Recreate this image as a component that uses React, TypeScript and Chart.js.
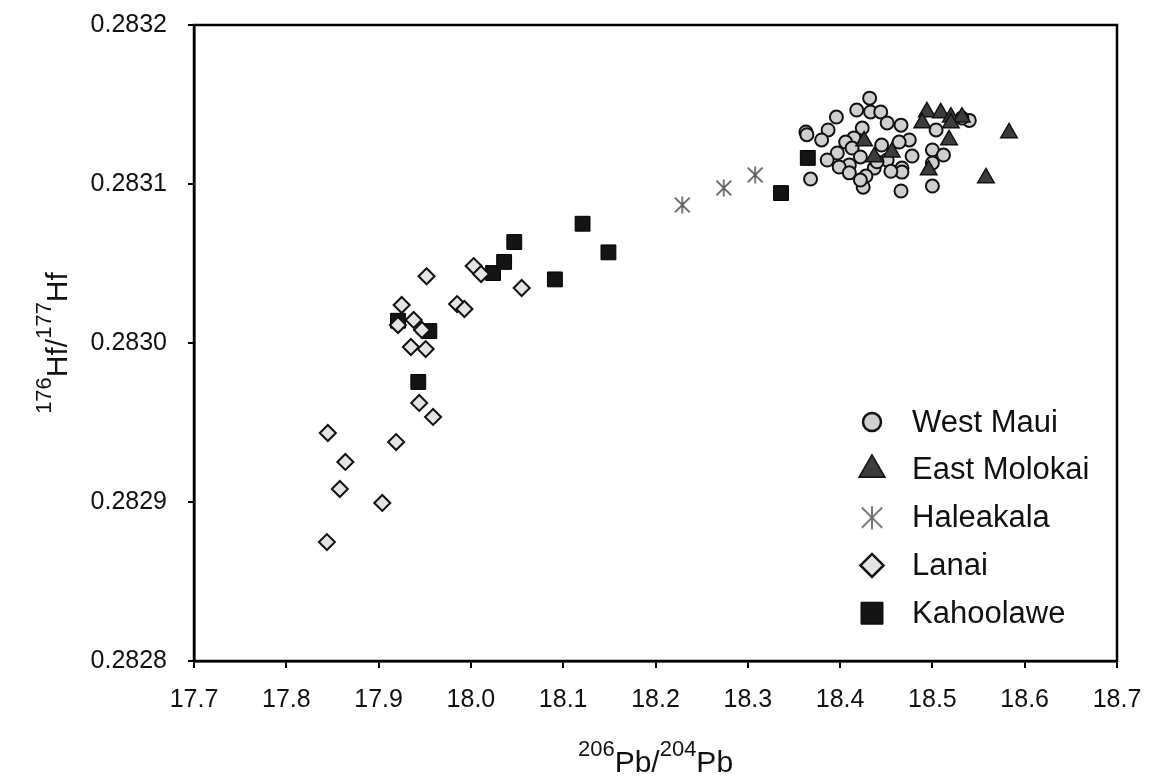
import React, { useEffect, useRef } from 'react';
import { Chart, registerables } from 'chart.js';
import { drawPoint } from 'chart.js/helpers';

Chart.register(...registerables);

// ---------- data ----------
const xTicks = [17.7, 17.8, 17.9, 18.0, 18.1, 18.2, 18.3, 18.4, 18.5, 18.6, 18.7];
const yTicks = [0.2828, 0.2829, 0.283, 0.2831, 0.2832];

const seriesNames = ['West Maui', 'East Molokai', 'Haleakala', 'Lanai', 'Kahoolawe'];

const westMauiX = [18.432, 18.418, 18.433, 18.444, 18.396, 18.451, 18.466, 18.363, 18.387, 18.424, 18.504, 18.540, 18.532, 18.380, 18.415, 18.406, 18.475, 18.464, 18.445, 18.413, 18.397, 18.500, 18.512, 18.478, 18.422, 18.386, 18.451, 18.410, 18.399, 18.437, 18.467, 18.500, 18.410, 18.428, 18.467, 18.368, 18.500, 18.425, 18.466, 18.422, 18.364, 18.455, 18.440];
const westMauiY = [0.283154, 0.2831465, 0.2831453, 0.2831453, 0.2831421, 0.2831384, 0.283137, 0.2831327, 0.283134, 0.2831352, 0.283134, 0.28314, 0.2831415, 0.2831277, 0.283129, 0.2831264, 0.2831277, 0.2831264, 0.2831245, 0.2831226, 0.2831195, 0.2831214, 0.2831182, 0.2831176, 0.283117, 0.2831151, 0.2831151, 0.283112, 0.2831107, 0.28311, 0.28311, 0.2831132, 0.283107, 0.283105, 0.2831075, 0.2831031, 0.2830987, 0.283098, 0.2830956, 0.2831025, 0.283131, 0.283108, 0.283114];

const eastMolokaiX = [18.494, 18.509, 18.520, 18.532, 18.489, 18.520, 18.583, 18.518, 18.426, 18.456, 18.437, 18.496, 18.558];
const eastMolokaiY = [0.2831453, 0.2831447, 0.283142, 0.283142, 0.2831384, 0.2831384, 0.2831321, 0.2831277, 0.283127, 0.28312, 0.283117, 0.2831088, 0.2831038];

const haleakalaX = [18.229, 18.274, 18.308];
const haleakalaY = [0.2830868, 0.2830975, 0.2831057];

const lanaiX = [17.952, 18.003, 18.011, 18.055, 17.925, 17.985, 17.993, 17.921, 17.938, 17.947, 17.935, 17.951, 17.944, 17.959, 17.845, 17.919, 17.864, 17.858, 17.904, 17.844];
const lanaiY = [0.283042, 0.2830484, 0.2830434, 0.2830346, 0.2830239, 0.2830245, 0.2830214, 0.2830113, 0.2830145, 0.2830082, 0.2829975, 0.2829962, 0.2829623, 0.2829535, 0.2829434, 0.2829377, 0.2829252, 0.2829082, 0.2828994, 0.2828748];

const kahoolaweX = [17.921, 17.955, 17.943, 18.024, 18.036, 18.047, 18.091, 18.121, 18.149, 18.336, 18.365];
const kahoolaweY = [0.283014, 0.2830075, 0.2829755, 0.283044, 0.283051, 0.2830635, 0.28304, 0.283075, 0.283057, 0.2830943, 0.2831164];

// ---------- helpers ----------
const FONT = "'Liberation Sans', Arial, Helvetica, sans-serif";

function makeAsterisk(size: number, color: string, lw: number): HTMLCanvasElement {
  const c = document.createElement('canvas');
  c.width = size;
  c.height = size;
  const g = c.getContext('2d')!;
  g.strokeStyle = color;
  g.lineWidth = lw;
  const m = lw;
  g.beginPath();
  g.moveTo(m, m);
  g.lineTo(size - m, size - m);
  g.moveTo(size - m, m);
  g.lineTo(m, size - m);
  g.moveTo(size / 2, 0.5);
  g.lineTo(size / 2, size - 0.5);
  g.stroke();
  return c;
}

const pts = (xs: number[], ys: number[]) => xs.map((x, i) => ({ x, y: ys[i] }));

function drawSupText(ctx: CanvasRenderingContext2D, parts: { t: string; sup: boolean }[], cx: number, baseY: number, mainSize: number, supSize: number, raise: number) {
  const mainFont = `${mainSize}px ${FONT}`;
  const supFont = `${supSize}px ${FONT}`;
  let total = 0;
  for (const p of parts) {
    ctx.font = p.sup ? supFont : mainFont;
    total += ctx.measureText(p.t).width;
  }
  let x = cx - total / 2;
  ctx.textAlign = 'left';
  ctx.textBaseline = 'alphabetic';
  for (const p of parts) {
    ctx.font = p.sup ? supFont : mainFont;
    ctx.fillText(p.t, x, p.sup ? baseY - raise : baseY);
    x += ctx.measureText(p.t).width;
  }
}

export default function App() {
  const ref = useRef<HTMLCanvasElement>(null);

  useEffect(() => {
    if (!ref.current) return;
    const starData = makeAsterisk(18, '#5a5a5a', 1.6);
    const starLegend = makeAsterisk(24, '#6a6a6a', 1.8);

    const legendStyles = [
      { style: 'circle', radius: 9, bg: '#cfcfcf', border: '#111', bw: 2.5 },
      { style: 'triangle', radius: 15, bg: '#3c3c3c', border: '#111', bw: 1.5 },
      { style: starLegend, radius: 12, bg: '#666', border: '#666', bw: 0 },
      { style: 'rectRot', radius: 11.5, bg: '#e4e4e4', border: '#111', bw: 2.5 },
      { style: 'rect', radius: 15.5, bg: '#141414', border: '#000', bw: 1 },
    ];

    const overlay = {
      id: 'overlay',
      afterDraw(chart: any) {
        const { ctx, chartArea } = chart;
        ctx.save();
        // frame
        ctx.strokeStyle = '#000';
        ctx.lineWidth = 2.5;
        ctx.strokeRect(chartArea.left, chartArea.top, chartArea.right - chartArea.left, chartArea.bottom - chartArea.top);

        // x title
        ctx.fillStyle = '#111';
        const cx = (chartArea.left + chartArea.right) / 2;
        drawSupText(ctx, [
          { t: '206', sup: true }, { t: 'Pb/', sup: false }, { t: '204', sup: true }, { t: 'Pb', sup: false },
        ], cx, 772, 30, 22, 16);

        // y title
        ctx.save();
        const cy = (chartArea.top + chartArea.bottom) / 2;
        ctx.translate(67, cy);
        ctx.rotate(-Math.PI / 2);
        drawSupText(ctx, [
          { t: '176', sup: true }, { t: 'Hf/', sup: false }, { t: '177', sup: true }, { t: 'Hf', sup: false },
        ], 0, 0, 30, 22, 16);
        ctx.restore();

        // legend
        seriesNames.forEach((name, i) => {
          const s = legendStyles[i];
          const y = 422 + i * 47.8;
          ctx.fillStyle = s.bg;
          ctx.strokeStyle = s.border;
          ctx.lineWidth = s.bw;
          drawPoint(ctx, { pointStyle: s.style as any, rotation: 0, radius: s.radius, borderWidth: s.bw }, 872, y);
          ctx.fillStyle = '#111';
          ctx.font = `31px ${FONT}`;
          ctx.textAlign = 'left';
          ctx.textBaseline = 'middle';
          ctx.fillText(name, 912, y + 1);
        });
        ctx.restore();
      },
    };

    const tickFont = { family: FONT, size: 25 };

    const chart = new Chart(ref.current, {
      type: 'scatter',
      data: {
        datasets: [
          {
            label: seriesNames[0], data: pts(westMauiX, westMauiY), order: 2,
            pointStyle: 'circle', pointRadius: 6.5, pointHoverRadius: 6.5,
            backgroundColor: '#cfcfcf', borderColor: '#111', borderWidth: 2,
          },
          {
            label: seriesNames[1], data: pts(eastMolokaiX, eastMolokaiY), order: 1,
            pointStyle: 'triangle', pointRadius: 9.5, pointHoverRadius: 9.5,
            backgroundColor: '#3c3c3c', borderColor: '#111', borderWidth: 1.5,
          },
          {
            label: seriesNames[2], data: pts(haleakalaX, haleakalaY), order: 3,
            pointStyle: starData, pointRadius: 9, pointHoverRadius: 9,
            backgroundColor: '#666', borderColor: '#666', borderWidth: 0,
          },
          {
            label: seriesNames[3], data: pts(lanaiX, lanaiY), order: 4,
            pointStyle: 'rectRot', pointRadius: 8, pointHoverRadius: 8,
            backgroundColor: '#e4e4e4', borderColor: '#111', borderWidth: 2,
          },
          {
            label: seriesNames[4], data: pts(kahoolaweX, kahoolaweY), order: 5,
            pointStyle: 'rect', pointRadius: 10.5, pointHoverRadius: 10.5,
            backgroundColor: '#141414', borderColor: '#000', borderWidth: 1,
          },
        ] as any,
      },
      options: {
        animation: false,
        responsive: false,
        events: [],
        layout: { padding: { top: 25, right: 56, left: 0, bottom: 0 } },
        plugins: { legend: { display: false }, tooltip: { enabled: false } },
        scales: {
          x: {
            type: 'linear',
            min: 17.7,
            max: 18.7,
            afterBuildTicks: (s: any) => { s.ticks = xTicks.map((v) => ({ value: v })); },
            afterFit: (s: any) => { s.height = 121; s.paddingLeft = 0; s.paddingRight = 0; },
            ticks: { font: tickFont, color: '#111', padding: 17, maxRotation: 0, callback: (v: any) => Number(v).toFixed(1) },
            grid: { drawOnChartArea: false, drawTicks: true, tickLength: 7, color: '#000', lineWidth: 2 },
            border: { display: true, color: '#000', width: 2.5 },
            title: { display: false },
          },
          y: {
            type: 'linear',
            min: 0.2828,
            max: 0.2832,
            afterBuildTicks: (s: any) => { s.ticks = yTicks.map((v) => ({ value: v })); },
            afterFit: (s: any) => { s.width = 194; s.paddingTop = 0; s.paddingBottom = 0; },
            ticks: { font: tickFont, color: '#111', padding: 21, callback: (v: any) => Number(v).toFixed(4) },
            grid: { drawOnChartArea: false, drawTicks: true, tickLength: 6, color: '#000', lineWidth: 2 },
            border: { display: true, color: '#000', width: 2.5 },
            title: { display: false },
          },
        },
      } as any,
      plugins: [overlay],
    });
    return () => chart.destroy();
  }, []);

  return (
    <div style={{ position: 'absolute', left: 0, top: 0, width: 1173, height: 782, background: '#fff' }}>
      <canvas ref={ref} width={1173} height={782} style={{ display: 'block', width: 1173, height: 782 }} />
    </div>
  );
}
